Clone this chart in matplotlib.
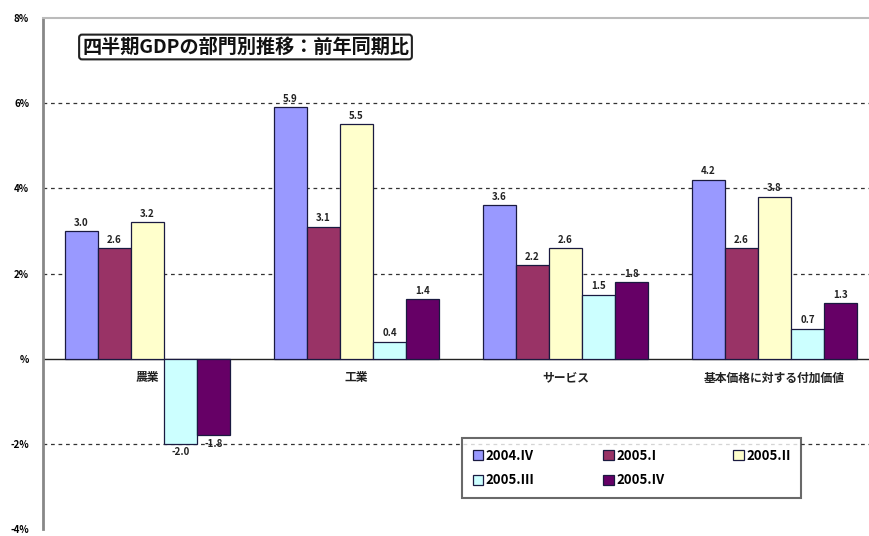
import matplotlib
matplotlib.use("Agg")
import matplotlib.pyplot as plt
import numpy as np

plt.rcParams['font.family'] = ['Noto Sans CJK JP', 'DejaVu Sans']

categories = ["農業", "工業", "サービス", "基本価格に対する付加価値"]
series_names = ["2004.IV", "2005.I", "2005.II", "2005.III", "2005.IV"]
values = {
    "2004.IV": [3.0, 5.9, 3.6, 4.2],
    "2005.I": [2.6, 3.1, 2.2, 2.6],
    "2005.II": [3.2, 5.5, 2.6, 3.8],
    "2005.III": [-2.0, 0.4, 1.5, 0.7],
    "2005.IV": [-1.8, 1.4, 1.8, 1.3],
}
colors = ["#9999FF", "#993366", "#FFFFCC", "#CCFFFF", "#660066"]
y_ticks = [-4, -2, 0, 2, 4, 6, 8]
y_tick_labels = ["-4%", "-2%", "%", "2%", "4%", "6%", "8%"]
title = "四半期GDPの部門別推移：前年同期比"

fig = plt.figure(figsize=(8.69, 5.36), dpi=100)
ax = fig.add_axes([43 / 869, 1 - 529 / 536, 836 / 869, (529 - 18) / 536])

x = np.arange(len(categories))
width = 0.158
n = len(series_names)
handles = []
for i, name in enumerate(series_names):
    offs = (i - (n - 1) / 2) * width
    vals = values[name]
    h = ax.bar(x + offs, vals, width, color=colors[i], edgecolor="#1a1a40",
               linewidth=0.9, label=name, zorder=3)
    handles.append(h)
    for xi, v in zip(x + offs, vals):
        va = "bottom" if v >= 0 else "top"
        dy = 0.08 if v >= 0 else -0.08
        ax.text(xi, v + dy, f"{v:.1f}", ha="center", va=va, fontsize=7,
                fontweight="bold", color="#222222", zorder=4)

ax.set_xlim(-0.5, len(categories) - 0.5)
ax.set_ylim(-4, 8)
ax.set_yticks(y_ticks)
ax.set_yticklabels(y_tick_labels, fontsize=7, fontweight="bold")
ax.tick_params(axis="y", length=0, pad=10)
ax.set_xticks([])

for yv in [-2, 2, 4, 6]:
    ax.axhline(yv, color="#333333", linestyle=(0, (3, 3)), linewidth=0.9, zorder=1)
ax.axhline(0, color="#222222", linewidth=1.0, zorder=2)

for s in ["right", "bottom"]:
    ax.spines[s].set_visible(False)
ax.spines["left"].set_color("#888888")
ax.spines["left"].set_linewidth(2)
ax.spines["top"].set_color("#bbbbbb")
ax.spines["top"].set_linewidth(1.5)

for xi, c in zip(x, categories):
    ax.text(xi, -0.3, c, ha="center", va="top", fontsize=8.5, fontweight="bold",
            color="#222222")

fig.text(82 / 869, 1 - 47 / 536, title, fontsize=13.8, fontweight="bold",
         ha="left", va="center", color="#111111",
         bbox=dict(boxstyle="round,pad=0.15,rounding_size=0.15", fc="white",
                   ec="#222222", lw=1.5))

# legend filled row by row: 3 entries on the first row, 2 on the second
order = [0, 3, 1, 4, 2]
leg = fig.legend([handles[k] for k in order], [series_names[k] for k in order],
                 loc="lower left", ncol=3, bbox_to_anchor=(462 / 869, 1 - 498 / 536),
                 frameon=True, fancybox=False, edgecolor="#444444",
                 handlelength=0.8, handleheight=0.8, handletextpad=0.2,
                 columnspacing=5.2, borderpad=0.8, labelspacing=0.8,
                 borderaxespad=0,
                 prop={"weight": "bold", "size": 9.5})
leg.get_frame().set_linewidth(1.5)

fig.savefig("out.png", dpi=100)
